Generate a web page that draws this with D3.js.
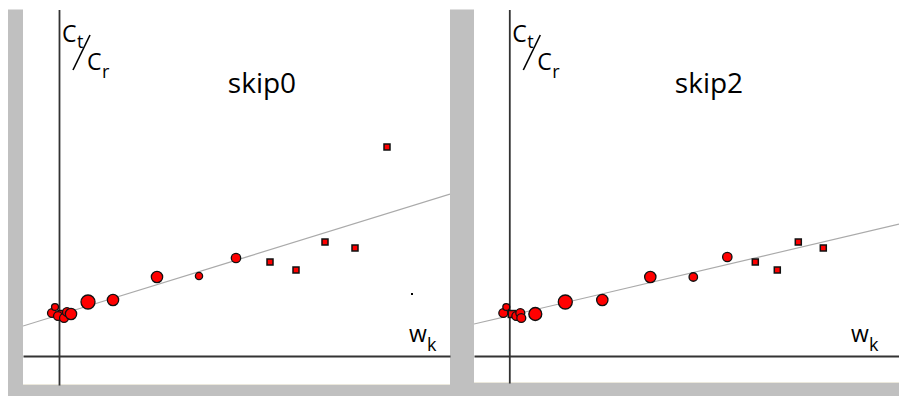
<!DOCTYPE html>
<html>
<head>
<meta charset="utf-8">
<script src="https://cdn.jsdelivr.net/npm/d3@7"></script>
<style>
  body { margin: 0; background: #fff; }
  svg { display: block; font-family: 'Open Sans', sans-serif; }
  .c-axis path { stroke: #333; stroke-width: 1.8; }
  .c-fit { stroke: #aaa; stroke-width: 1.2; fill: none; }
  .c-point { fill: #f00; stroke: #111; stroke-width: 1.3; }
</style>
</head>
<body>
<div id="chart"></div>
<script>
// panel titles
const panelNames = ['skip0', 'skip2'];

// skip0: w_k, ratio Ct/Cr, weight (marker size), marker shape
const skip0X = [-0.07, -0.04, -0.01, 0.025, 0.05, 0.08, 0.12, 0.29, 0.54, 0.98, 1.40, 1.77, 2.11, 2.37, 2.66, 2.96, 3.28, 3.53];
const skip0Y = [0.43, 0.49, 0.40, 0.42, 0.38, 0.44, 0.42, 0.54, 0.56, 0.79, 0.80, 0.98, 0.94, 0.86, 1.14, 1.08, 2.09, 0.62];
const skip0Weight = [20, 12, 20, 12, 20, 20, 32, 49, 32, 32, 13, 22, 9, 9, 9, 9, 9, 1];
const skip0Shape = ['c', 'c', 'c', 's', 'c', 'c', 'c', 'c', 'c', 'c', 'c', 'c', 's', 's', 's', 's', 's', 's'];

// skip2
const skip2X = [-0.06, -0.03, 0.025, 0.07, 0.11, 0.12, 0.26, 0.56, 0.93, 1.41, 1.84, 2.18, 2.46, 2.68, 2.89, 3.14];
const skip2Y = [0.43, 0.49, 0.42, 0.40, 0.43, 0.38, 0.42, 0.54, 0.56, 0.79, 0.79, 0.99, 0.94, 0.86, 1.14, 1.08];
const skip2Weight = [20, 12, 12, 20, 20, 20, 42, 49, 32, 32, 18, 22, 9, 9, 9, 9];
const skip2Shape = ['c', 'c', 's', 'c', 'c', 'c', 'c', 'c', 'c', 'c', 'c', 'c', 's', 's', 's', 's'];

// fitted lines: intercept, slope
const fitIntercept = [0.411, 0.403];
const fitSlope = [0.309, 0.235];

class ScatterPanel {
  constructor (svg, opts) {
    this.svg = svg;
    this.o = opts;
    this.g = svg.append('g');
  }

  initScales () {
    const o = this.o;
    this.x = d3.scaleLinear().domain(o.xDomain).range([o.left, o.right]);
    this.y = d3.scaleLinear().domain(o.yDomain).range([o.bottom, o.top]);
    this.r = d3.scaleSqrt().domain([0, 49]).range([0, 7]);
  }

  drawAxes () {
    // no ticks, only the two cross lines through the origin
    this.g.append('g')
      .attr('class', 'c-axis')
      .attr('transform', 'translate(0,' + this.y(0) + ')')
      .call(d3.axisBottom(this.x).ticks(0).tickSizeOuter(0));

    this.g.append('g')
      .attr('class', 'c-axis')
      .attr('transform', 'translate(' + this.x(0) + ',0)')
      .call(d3.axisLeft(this.y).ticks(0).tickSizeOuter(0));
  }

  drawFit () {
    const o = this.o;
    const xs = this.x.domain();
    const line = d3.line()
      .x((d) => this.x(d))
      .y((d) => this.y(o.intercept + o.slope * d));
    this.g.append('path')
      .attr('class', 'c-fit')
      .attr('clip-path', 'url(#' + o.clipId + ')')
      .attr('d', line(xs));
  }

  drawPoints () {
    const o = this.o;
    const data = o.xs.map((v, i) => ({x: v, y: o.ys[i], w: o.weights[i], shape: o.shapes[i]}));
    const pts = this.g.append('g').attr('clip-path', 'url(#' + o.clipId + ')');

    pts.selectAll('rect')
      .data(data.filter((d) => d.shape === 's'))
      .enter()
      .append('rect')
      .attr('class', 'c-point')
      .attr('x', (d) => this.x(d.x) - this.r(d.w))
      .attr('y', (d) => this.y(d.y) - this.r(d.w))
      .attr('width', (d) => 2 * this.r(d.w))
      .attr('height', (d) => 2 * this.r(d.w))
      .style('stroke-width', (d) => d.w < 4 ? 0 : 1.5)
      .style('fill', (d) => d.w < 4 ? '#000' : '#f00');

    pts.selectAll('circle')
      .data(data.filter((d) => d.shape === 'c'))
      .enter()
      .append('circle')
      .attr('class', 'c-point')
      .attr('cx', (d) => this.x(d.x))
      .attr('cy', (d) => this.y(d.y))
      .attr('r', (d) => this.r(d.w));
  }

  drawLabels () {
    const o = this.o;
    const ax = this.x(0);
    const g = this.g;

    g.append('text').attr('x', o.titleX).attr('y', 93)
      .attr('text-anchor', 'middle').style('font-size', '28px').text(o.title);

    // Ct / Cr
    g.append('text').attr('x', ax + 3).attr('y', 42).style('font-size', '23px').text('C');
    g.append('text').attr('x', ax + 18).attr('y', 48).style('font-size', '18px').text('t');
    g.append('line')
      .attr('x1', ax + 14).attr('y1', 70).attr('x2', ax + 31).attr('y2', 35)
      .attr('stroke', '#000').attr('stroke-width', 1.6);
    g.append('text').attr('x', ax + 28).attr('y', 70).style('font-size', '23px').text('C');
    g.append('text').attr('x', ax + 43).attr('y', 78).style('font-size', '18px').text('r');

    // w_k
    g.append('text').attr('x', o.wkX).attr('y', 342).style('font-size', '23px').text('w');
    g.append('text').attr('x', o.wkX + 18).attr('y', 351).style('font-size', '18px').text('k');
  }

  render () {
    this.initScales();
    this.drawFit();
    this.drawAxes();
    this.drawPoints();
    this.drawLabels();
  }
}

const width = 899;
const height = 396;
const svg = d3.select('#chart').append('svg').attr('width', width).attr('height', height);

const panels = [
  {title: panelNames[0], left: 23, right: 450, top: 9.5, bottom: 385,
    xDomain: [-0.36, 3.91], yDomain: [-0.29, 3.465], titleX: 262, wkX: 409,
    xs: skip0X, ys: skip0Y, weights: skip0Weight, shapes: skip0Shape,
    intercept: fitIntercept[0], slope: fitSlope[0], clipId: 'clip0'},
  {title: panelNames[1], left: 474, right: 899, top: 9.5, bottom: 383,
    xDomain: [-0.353, 3.897], yDomain: [-0.27, 3.465], titleX: 709, wkX: 851,
    xs: skip2X, ys: skip2Y, weights: skip2Weight, shapes: skip2Shape,
    intercept: fitIntercept[1], slope: fitSlope[1], clipId: 'clip2'}
];

const defs = svg.append('defs');
panels.forEach((p) => {
  defs.append('clipPath').attr('id', p.clipId)
    .append('rect').attr('x', p.left).attr('y', p.top)
    .attr('width', p.right - p.left).attr('height', p.bottom - p.top);
});

// grey frame around the panels
const frame = svg.append('g').attr('fill', '#c0c0c0');
frame.append('rect').attr('x', 8).attr('y', 9.5).attr('width', 15).attr('height', height - 9.5);
frame.append('rect').attr('x', 8).attr('y', 385).attr('width', 452).attr('height', 11);
frame.append('rect').attr('x', 450).attr('y', 9.5).attr('width', 24).attr('height', height - 9.5);
frame.append('rect').attr('x', 450).attr('y', 383).attr('width', width - 450).attr('height', 13);
svg.append('line').attr('x1', 23).attr('x2', 450).attr('y1', 384.5).attr('y2', 384.5)
  .attr('stroke', '#ebe8dc');
svg.append('line').attr('x1', 474).attr('x2', width).attr('y1', 382.5).attr('y2', 382.5)
  .attr('stroke', '#ebe8dc');

panels.forEach((p) => new ScatterPanel(svg, p).render());
</script>
</body>
</html>
